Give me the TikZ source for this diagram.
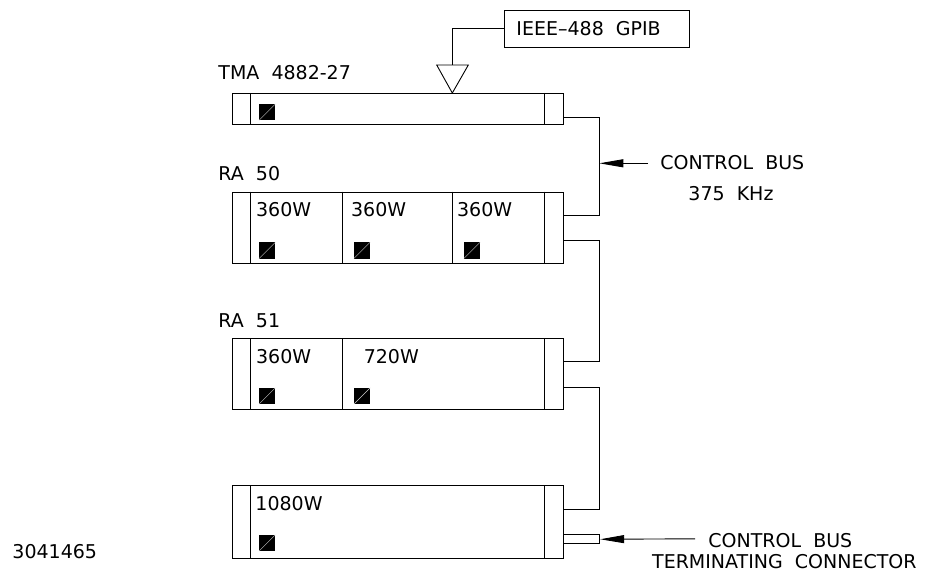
\documentclass[tikz,border=0pt]{standalone}
\usepackage{fontspec}
\setmainfont{DejaVu Sans}
\usetikzlibrary{arrows.meta}
\begin{document}
\begin{tikzpicture}[x=1pt,y=-1pt,line width=0.9pt,
  lbl/.style={anchor=base west,inner sep=0pt,font=\fontsize{19}{19}\selectfont},
  unit/.style={draw,anchor=north west,inner sep=0pt,minimum width=330.4pt},
  led/.style={fill=black,minimum size=16.5pt,inner sep=0pt,anchor=north west,
    path picture={\draw[white!60!gray,line width=0.4pt] (path picture bounding box.south west)--(path picture bounding box.north east);}},
  arr/.style={-{Triangle[length=24pt,width=8pt]}}]
\useasboundingbox (0,0) rectangle (925,572);
% GPIB
\node[draw,minimum width=184.7pt,minimum height=37.3pt,inner sep=0pt,anchor=north west] (gpib) at (504,10) {};
\node[lbl] (gpibt) at (516,36) {IEEE--488\ \ GPIB};
\coordinate (gc) at (452.3,28.3);
\coordinate (tri) at (452.3,65);
\draw (gpib.west |- gc) -- (gc) -- (tri);
\draw (436.7,65) -- (468.3,65) -- (452.3,93) -- cycle;
% TMA
\node[lbl] (tmal) at (218,80) {TMA\ \ 4882-27};
\node[unit,minimum height=31pt] (tma) at (232.3,93) {};
\draw (250.3,93) -- (250.3,124) (544.7,93) -- (544.7,124);
\node[led] (tled) at (258.5,103.5) {};
% RA 50
\node[lbl] (ra50l) at (218,180.5) {RA\ \ 50};
\node[unit,minimum height=71.3pt] (ra50) at (232.3,191.7) {};
\draw (250.3,191.7) -- (250.3,263) (342.3,191.7) -- (342.3,263) (452.3,191.7) -- (452.3,263) (544.7,191.7) -- (544.7,263);
\node[lbl] (a1) at (255.7,216) {360W};
\node[lbl] (a2) at (350.7,216) {360W};
\node[lbl] (a3) at (456.7,216) {360W};
\node[led] (l1) at (258.5,241.7) {};
\node[led] (l2) at (353.3,241.7) {};
\node[led] (l3) at (463.3,241.7) {};
% RA 51
\node[lbl] (ra51l) at (218,327.5) {RA\ \ 51};
\node[unit,minimum height=71pt] (ra51) at (232.3,338.3) {};
\draw (250.3,338.3) -- (250.3,409.3) (342.3,338.3) -- (342.3,409.3) (544.7,338.3) -- (544.7,409.3);
\node[lbl] (b1) at (255.7,363.5) {360W};
\node[lbl] (b2) at (363.3,363.5) {720W};
\node[led] (m1) at (258.5,387.3) {};
\node[led] (m2) at (353.3,387.3) {};
% 1080W
\node[unit,minimum height=73.3pt] (big) at (232.3,485) {};
\draw (250.3,485) -- (250.3,558.3) (544.7,485) -- (544.7,558.3);
\node[lbl] (c1) at (255,510) {1080W};
\node[led] (n1) at (258.5,534.3) {};
% bus connectors
\coordinate (p1) at (599.3,117.3);
\coordinate (p2) at (599.3,215);
\coordinate (p3) at (599.3,240);
\coordinate (p4) at (599.3,361.7);
\coordinate (p5) at (599.3,387.3);
\coordinate (p6) at (599.3,509.3);
\draw (tma.east |- p1) -- (p1) -- (p2) -- (ra50.east |- p2);
\draw (ra50.east |- p3) -- (p3) -- (p4) -- (ra51.east |- p4);
\draw (ra51.east |- p5) -- (p5) -- (p6) -- (big.east |- p6);
% terminating connector
\node[draw,anchor=north west,inner sep=0pt,minimum width=36.6pt,minimum height=9pt] (term) at (562.7,534.3) {};
% labels with arrows
\node[lbl] (cb1) at (660,170) {CONTROL\ \ BUS};
\node[lbl] (khz) at (688,200) {375\ \ KHz};
\coordinate (a1s) at (648,163.3);
\coordinate (a1e) at (599.3,163.3);
\draw[arr] (a1s) -- (a1e);
\node[lbl] (cb2) at (708,547) {CONTROL\ \ BUS};
\node[lbl] (tc) at (651.7,568.7) {TERMINATING\ \ CONNECTOR};
\coordinate (a2s) at (695,538.8);
\draw[arr] (a2s) -- (term.east);
\node[lbl] (num) at (12,558) {3041465};
\end{tikzpicture}
\end{document}
